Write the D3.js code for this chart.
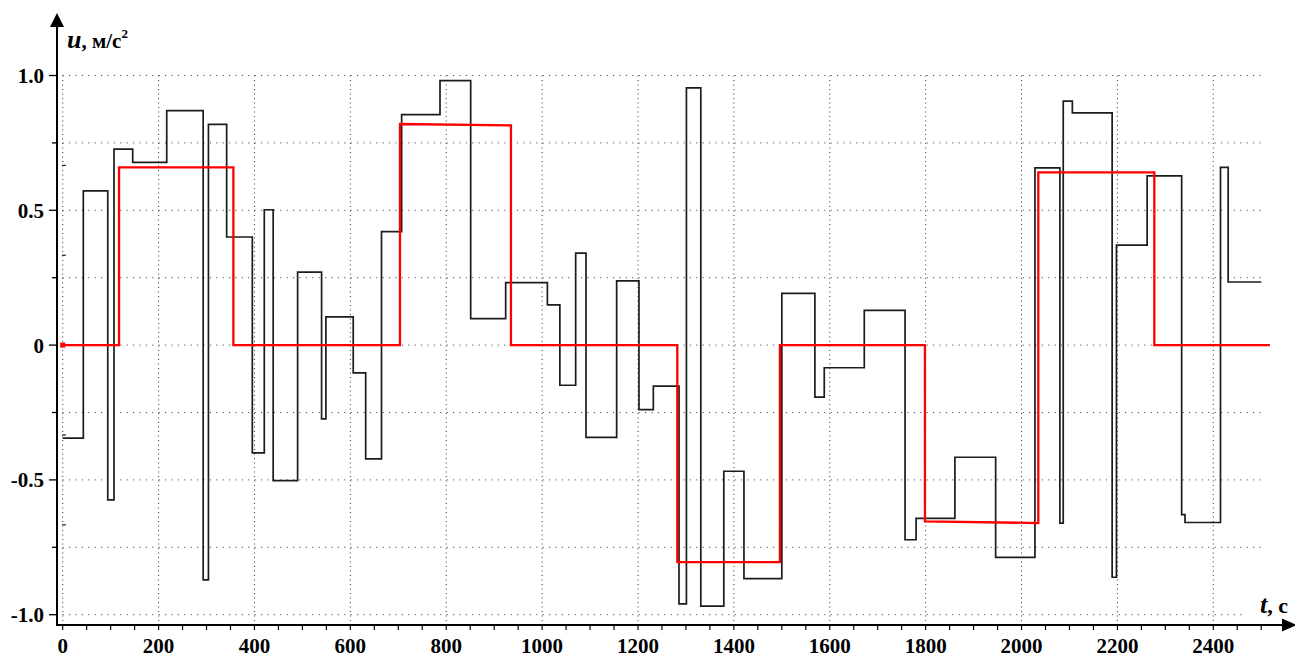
<!DOCTYPE html>
<html><head><meta charset="utf-8">
<script src="https://cdn.jsdelivr.net/npm/d3@7"></script>
<style>
html,body{margin:0;padding:0;background:#fff;}
svg{display:block;}
text{font-family:"Liberation Serif","DejaVu Serif","Times New Roman",serif;}
</style></head>
<body><svg id="c" width="1295" height="657"></svg>
<script>
// ---- data ----
const blackT = [0, 43, 94, 107, 146, 217, 293, 304, 342, 395.5, 420.5, 439, 490, 540, 549, 606, 632, 665, 707, 787, 851, 924, 1011, 1037, 1070, 1091.5, 1155.5, 1202, 1232, 1285.5, 1301, 1331, 1379, 1421, 1500, 1569, 1588.5, 1672, 1757, 1780, 1861, 1946, 2028, 2080, 2087, 2106, 2189, 2198, 2262, 2334, 2341, 2415, 2431, 2500];
const blackU = [-0.345, 0.572, -0.574, 0.727, 0.678, 0.870, -0.871, 0.819, 0.401, -0.400, 0.502, -0.503, 0.271, -0.274, 0.105, -0.103, -0.422, 0.421, 0.855, 0.981, 0.098, 0.232, 0.149, -0.149, 0.341, -0.342, 0.238, -0.239, -0.152, -0.960, 0.954, -0.968, -0.468, -0.866, 0.192, -0.193, -0.084, 0.129, -0.722, -0.643, -0.416, -0.787, 0.657, -0.660, 0.905, 0.861, -0.861, 0.371, 0.628, -0.629, -0.658, 0.659, 0.234, 0.234];
const redT = [0, 117.5, 117.5, 356, 356, 703.5, 703.5, 935, 935, 1282, 1282, 1496, 1496, 1798.5, 1798.5, 2035, 2035, 2277, 2277, 2518];
const redU = [0, 0, 0.659, 0.659, 0, 0, 0.820, 0.815, 0, 0, -0.805, -0.805, 0, 0, -0.654, -0.660, 0.641, 0.641, 0, 0];
const xTickLabels = [0, 200, 400, 600, 800, 1000, 1200, 1400, 1600, 1800, 2000, 2200, 2400];
const yTickValues = [1.0, 0.5, 0, -0.5, -1.0];
const yTickLabels = ["1.0", "0.5", "0", "-0.5", "-1.0"];
const yGrid = [1.0, 0.75, 0.5, 0.25, 0, -0.25, -0.5, -0.75, -1.0];

// ---- scales ----
const x = d3.scaleLinear().domain([0, 2400]).range([62.7, 1213.3]);
const y = d3.scaleLinear().domain([-1, 1]).range([614.7, 75.5]);
const svg = d3.select("#c");
const axX = 57, axY = 625;
const FF = '"Liberation Serif","DejaVu Serif",serif';

// grid
svg.append("g").selectAll("line").data(yGrid).join("line")
  .attr("x1", x(0)).attr("x2", d => d === -1 ? 1245 : 1265)
  .attr("y1", d => y(d)).attr("y2", d => y(d))
  .attr("stroke", "#333").attr("stroke-width", 1).attr("stroke-dasharray", "1,5.4");
svg.append("g").selectAll("line").data(xTickLabels).join("line")
  .attr("x1", d => x(d)).attr("x2", d => x(d))
  .attr("y1", y(1)).attr("y2", axY)
  .attr("stroke", "#333").attr("stroke-width", 1).attr("stroke-dasharray", "1,3.5");

// axes
svg.append("line").attr("x1", axX).attr("x2", axX).attr("y1", 22).attr("y2", axY + 1)
  .attr("stroke", "#000").attr("stroke-width", 2);
svg.append("path").attr("d", `M${axX},13L${axX-7},27L${axX+7},27Z`).attr("fill", "#000");
svg.append("line").attr("x1", axX - 1).attr("x2", 1288).attr("y1", axY).attr("y2", axY)
  .attr("stroke", "#000").attr("stroke-width", 2);
svg.append("path").attr("d", `M1297,${axY}L1282,${axY-6.5}L1282,${axY+6.5}Z`).attr("fill", "#000");

// x ticks every 50
svg.append("g").selectAll("line").data(d3.range(0, 2501, 50)).join("line")
  .attr("x1", d => x(d)).attr("x2", d => x(d)).attr("y1", axY).attr("y2", axY + 5)
  .attr("stroke", "#000").attr("stroke-width", 1.2);
svg.append("g").selectAll("text").data(xTickLabels).join("text")
  .attr("x", d => x(d)).attr("y", 653).attr("text-anchor", "middle")
  .attr("font-family", FF).attr("font-size", 21).attr("font-weight", "bold").text(d => d);

// y ticks
svg.append("g").selectAll("line").data(yGrid).join("line")
  .attr("x1", d => (Math.abs(d * 2 - Math.round(d * 2)) < 1e-6) ? axX - 8 : axX - 5)
  .attr("x2", axX).attr("y1", d => y(d)).attr("y2", d => y(d))
  .attr("stroke", "#000").attr("stroke-width", 1.3);
svg.append("g").selectAll("line").data([2/3, 1/3, -1/3, -2/3]).join("line")
  .attr("x1", 62).attr("x2", 66).attr("y1", d => y(d)).attr("y2", d => y(d))
  .attr("stroke", "#000").attr("stroke-width", 1);
svg.append("g").selectAll("text").data(yTickValues).join("text")
  .attr("x", 44).attr("y", d => y(d) + 7.5).attr("text-anchor", "end")
  .attr("font-family", FF).attr("font-size", 21).attr("font-weight", "bold")
  .text((d, i) => yTickLabels[i]);

// axis titles
const ut = svg.append("text").attr("x", 67).attr("y", 48).attr("font-weight", "bold").attr("font-family", FF);
ut.append("tspan").attr("font-style", "italic").attr("font-size", 26).text("u");
ut.append("tspan").attr("font-size", 21).text(", м/с");
ut.append("tspan").attr("font-size", 13).attr("dy", -10).text("2");
const tt = svg.append("text").attr("x", 1260).attr("y", 613).attr("font-weight", "bold").attr("font-family", FF);
tt.append("tspan").attr("font-style", "italic").attr("font-size", 26).text("t");
tt.append("tspan").attr("font-size", 22).text(", с");

// series
const black = blackT.map((t, i) => [t, blackU[i]]);
const red = redT.map((t, i) => [t, redU[i]]);
svg.append("path").datum(black)
  .attr("d", d3.line().x(d => x(d[0])).y(d => y(d[1])).curve(d3.curveStepAfter))
  .attr("fill", "none").attr("stroke", "#1c1c1c").attr("stroke-width", 1.7);
svg.append("path").datum(red)
  .attr("d", d3.line().x(d => x(d[0])).y(d => y(d[1])))
  .attr("fill", "none").attr("stroke", "#ff0000").attr("stroke-width", 2.3);
svg.append("rect").attr("x", x(0) - 2.5).attr("y", y(0) - 2.5).attr("width", 5).attr("height", 5)
  .attr("fill", "#ff0000");
</script></body></html>
